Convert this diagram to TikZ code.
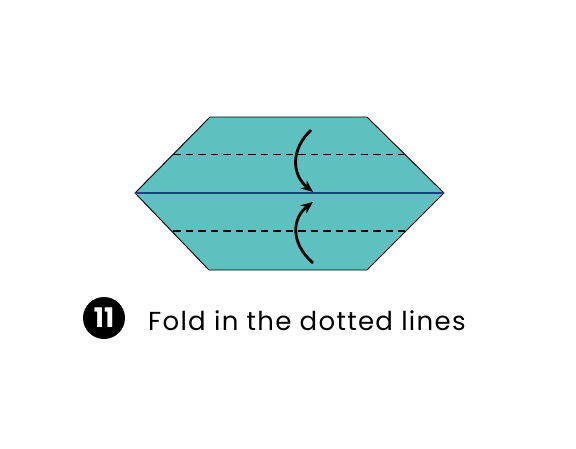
\documentclass[tikz,border=0pt]{standalone}
\usepackage{fontspec}
\setmainfont{Poppins}
\usepackage{xcolor}
\usetikzlibrary{arrows.meta,positioning,calc}

\definecolor{paper}{HTML}{5FC0C0}
\definecolor{midline}{HTML}{1F3C88}

\begin{document}
\begin{tikzpicture}[
    x=1pt, y=-1pt,
    >=Stealth,
    paper/.style={
        fill=paper,
        draw=black,
        line width=0.9pt
    },
    crease/.style={
        dash pattern=on 7.5pt off 5pt,
        line width=1.1pt
    },
    foldarrow/.style={
        -{Stealth[length=12pt,width=10pt]},
        line width=2.8pt
    },
    stepnum/.style={
        circle,
        fill=black,
        text=white,
        minimum size=42pt,
        inner sep=0pt,
        font=\fontsize{27}{27}\selectfont\bfseries
    }
]

\useasboundingbox (0,0) rectangle (576,448);

% outline of the folded paper
\coordinate (tl) at (210,117);
\coordinate (tr) at (367,117);
\coordinate (rp) at (444,193);
\coordinate (br) at (367,270);
\coordinate (bl) at (209,270);
\coordinate (lp) at (135,193);

\draw[paper] (tl) -- (tr) -- (rp) -- (br) -- (bl) -- (lp) -- cycle;
\draw[midline, line width=1.3pt] (lp) -- (rp);

% valley folds
\draw[crease] (173,154.5) -- (404,154.5);
\draw[crease] (173,231) -- (405,231);

% arrows
\coordinate (upstart) at (311,130);
\coordinate (upend) at (313,192);
\coordinate (lowstart) at (313,263);
\coordinate (lowend) at (313,202);

\draw[foldarrow] (upstart) .. controls (290,150) and (292,175) .. (upend);
\draw[foldarrow] (lowstart) .. controls (290,243) and (292,218) .. (lowend);

% caption
\node[stepnum] (num) at (104,318) {11};
\node[anchor=base west, inner sep=0pt, font=\fontsize{26}{26}\selectfont\addfontfeature{LetterSpace=5}] (caption) at (148,330) {Fold in the dotted lines};

\end{tikzpicture}
\end{document}
